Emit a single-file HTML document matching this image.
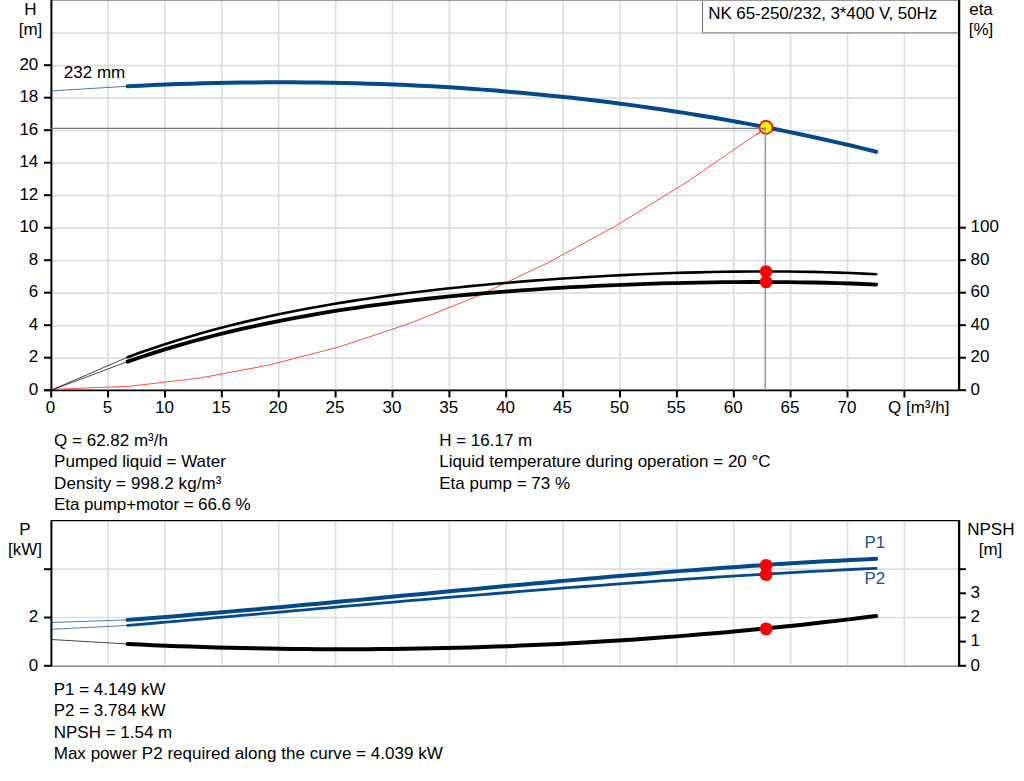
<!DOCTYPE html>
<html><head><meta charset="utf-8">
<style>
html,body{margin:0;padding:0;background:#fff;width:1024px;height:781px;overflow:hidden}
svg{display:block;position:absolute;left:0;top:0}
text{font-family:"Liberation Sans",sans-serif;font-size:17px;fill:#000}
</style></head><body>
<svg width="1024" height="781" viewBox="0 0 1024 781">
<g stroke="#dcdee0" stroke-width="1.7" fill="none">
<line x1="108.1" y1="0" x2="108.1" y2="390" />
<line x1="165.0" y1="0" x2="165.0" y2="390" />
<line x1="221.8" y1="0" x2="221.8" y2="390" />
<line x1="278.7" y1="0" x2="278.7" y2="390" />
<line x1="335.6" y1="0" x2="335.6" y2="390" />
<line x1="392.5" y1="0" x2="392.5" y2="390" />
<line x1="449.4" y1="0" x2="449.4" y2="390" />
<line x1="506.2" y1="0" x2="506.2" y2="390" />
<line x1="563.1" y1="0" x2="563.1" y2="390" />
<line x1="620.0" y1="0" x2="620.0" y2="390" />
<line x1="676.9" y1="0" x2="676.9" y2="390" />
<line x1="733.8" y1="0" x2="733.8" y2="390" />
<line x1="790.6" y1="0" x2="790.6" y2="390" />
<line x1="847.5" y1="0" x2="847.5" y2="390" />
<line x1="904.4" y1="0" x2="904.4" y2="390" />
<line x1="51" y1="358.05" x2="959" y2="358.05" />
<line x1="51" y1="325.55" x2="959" y2="325.55" />
<line x1="51" y1="293.05" x2="959" y2="293.05" />
<line x1="51" y1="260.55" x2="959" y2="260.55" />
<line x1="51" y1="228.05" x2="959" y2="228.05" />
<line x1="51" y1="195.55" x2="959" y2="195.55" />
<line x1="51" y1="163.05" x2="959" y2="163.05" />
<line x1="51" y1="130.55" x2="959" y2="130.55" />
<line x1="51" y1="98.05" x2="959" y2="98.05" />
<line x1="51" y1="65.55" x2="959" y2="65.55" />
<line x1="51" y1="33.05" x2="959" y2="33.05" />
<line x1="108.1" y1="521" x2="108.1" y2="665" />
<line x1="165.0" y1="521" x2="165.0" y2="665" />
<line x1="221.8" y1="521" x2="221.8" y2="665" />
<line x1="278.7" y1="521" x2="278.7" y2="665" />
<line x1="335.6" y1="521" x2="335.6" y2="665" />
<line x1="392.5" y1="521" x2="392.5" y2="665" />
<line x1="449.4" y1="521" x2="449.4" y2="665" />
<line x1="506.2" y1="521" x2="506.2" y2="665" />
<line x1="563.1" y1="521" x2="563.1" y2="665" />
<line x1="620.0" y1="521" x2="620.0" y2="665" />
<line x1="676.9" y1="521" x2="676.9" y2="665" />
<line x1="733.8" y1="521" x2="733.8" y2="665" />
<line x1="790.6" y1="521" x2="790.6" y2="665" />
<line x1="847.5" y1="521" x2="847.5" y2="665" />
<line x1="904.4" y1="521" x2="904.4" y2="665" />
<line x1="51" y1="617.50" x2="959" y2="617.50" />
<line x1="51" y1="569.20" x2="959" y2="569.20" />
</g>
<!-- top border -->

<line x1="51" y1="520.6" x2="959" y2="520.6" stroke="#000" stroke-width="1.3"/>
<!-- legend box -->
<rect x="702.5" y="0" width="256" height="32" fill="#fff"/>
<line x1="702.5" y1="0" x2="702.5" y2="33.5" stroke="#777" stroke-width="1.1"/>
<line x1="702" y1="32.85" x2="959" y2="32.85" stroke="#a8a8a8" stroke-width="1.9"/>
<line x1="51" y1="0.5" x2="959" y2="0.5" stroke="#9a9a9c" stroke-width="1"/>
<text x="708.3" y="19" textLength="228.9" lengthAdjust="spacing">NK 65-250/232, 3*400 V, 50Hz</text>
<!-- operating lines -->
<!-- axes -->
<line x1="51" y1="666.2" x2="959" y2="666.2" stroke="#858585" stroke-width="1.5"/>
<g stroke="#000" stroke-width="2" fill="none">
<line x1="51.4" y1="0" x2="51.4" y2="391"/>
<line x1="959.1" y1="0" x2="959.1" y2="391" stroke-width="2.3"/>
<line x1="44" y1="390.4" x2="959" y2="390.4" stroke-width="1.7"/>
<line x1="51.4" y1="520" x2="51.4" y2="666.5"/>
<line x1="959.1" y1="520" x2="959.1" y2="666.5" stroke-width="2.3"/>
<line x1="44" y1="390.2" x2="51" y2="390.2" />
<line x1="44" y1="357.7" x2="51" y2="357.7" />
<line x1="44" y1="325.2" x2="51" y2="325.2" />
<line x1="44" y1="292.7" x2="51" y2="292.7" />
<line x1="44" y1="260.2" x2="51" y2="260.2" />
<line x1="44" y1="227.7" x2="51" y2="227.7" />
<line x1="44" y1="195.2" x2="51" y2="195.2" />
<line x1="44" y1="162.7" x2="51" y2="162.7" />
<line x1="44" y1="130.2" x2="51" y2="130.2" />
<line x1="44" y1="97.7" x2="51" y2="97.7" />
<line x1="44" y1="65.2" x2="51" y2="65.2" />
<line x1="51.2" y1="390" x2="51.2" y2="397.5" />
<line x1="108.1" y1="390" x2="108.1" y2="397.5" />
<line x1="165.0" y1="390" x2="165.0" y2="397.5" />
<line x1="221.8" y1="390" x2="221.8" y2="397.5" />
<line x1="278.7" y1="390" x2="278.7" y2="397.5" />
<line x1="335.6" y1="390" x2="335.6" y2="397.5" />
<line x1="392.5" y1="390" x2="392.5" y2="397.5" />
<line x1="449.4" y1="390" x2="449.4" y2="397.5" />
<line x1="506.2" y1="390" x2="506.2" y2="397.5" />
<line x1="563.1" y1="390" x2="563.1" y2="397.5" />
<line x1="620.0" y1="390" x2="620.0" y2="397.5" />
<line x1="676.9" y1="390" x2="676.9" y2="397.5" />
<line x1="733.8" y1="390" x2="733.8" y2="397.5" />
<line x1="790.6" y1="390" x2="790.6" y2="397.5" />
<line x1="847.5" y1="390" x2="847.5" y2="397.5" />
<line x1="904.4" y1="390" x2="904.4" y2="397.5" />
<line x1="959" y1="390.2" x2="966" y2="390.2" />
<line x1="959" y1="357.7" x2="966" y2="357.7" />
<line x1="959" y1="325.2" x2="966" y2="325.2" />
<line x1="959" y1="292.7" x2="966" y2="292.7" />
<line x1="959" y1="260.2" x2="966" y2="260.2" />
<line x1="959" y1="227.7" x2="966" y2="227.7" />
<line x1="44" y1="665.8" x2="51" y2="665.8" />
<line x1="44" y1="617.5" x2="51" y2="617.5" />
<line x1="44" y1="569.2" x2="51" y2="569.2" />
<line x1="959" y1="665.8" x2="966" y2="665.8" />
<line x1="959" y1="641.6" x2="966" y2="641.6" />
<line x1="959" y1="617.5" x2="966" y2="617.5" />
<line x1="959" y1="593.3" x2="966" y2="593.3" />
<line x1="959" y1="569.2" x2="966" y2="569.2" />
</g>
<!-- system curve -->
<path d="M51.2,389.40 L129.1,386.28 L199.0,378.19 L268.8,365.10 L338.7,347.00 L408.5,323.89 L478.4,295.77 L548.2,262.65 L618.1,224.52 L687.9,181.38 L757.8,133.23 L765.9,127.30" fill="none" stroke="#ff4d4d" stroke-width="1"/>
<!-- curves top -->
<line x1="51.2" y1="390.2" x2="127.6" y2="357.20" stroke="#000" stroke-width="0.9" stroke-opacity="0.8"/>
<line x1="51.2" y1="390.2" x2="127.6" y2="361.63" stroke="#000" stroke-width="0.9" stroke-opacity="0.8"/>
<line x1="51.2" y1="90.9" x2="127.6" y2="86.27" stroke="#04498a" stroke-width="0.9" stroke-opacity="0.8"/>
<path d="M127.6,86.27 L140.3,85.66 L153.0,85.10 L165.7,84.58 L178.4,84.12 L191.0,83.72 L203.7,83.36 L216.4,83.05 L229.1,82.80 L241.8,82.60 L254.5,82.46 L267.2,82.37 L279.9,82.33 L292.5,82.35 L305.2,82.43 L317.9,82.56 L330.6,82.75 L343.3,83.00 L356.0,83.30 L368.7,83.66 L381.4,84.08 L394.1,84.56 L406.7,85.10 L419.4,85.71 L432.1,86.37 L444.8,87.09 L457.5,87.87 L470.2,88.72 L482.9,89.63 L495.6,90.60 L508.2,91.64 L520.9,92.74 L533.6,93.91 L546.3,95.14 L559.0,96.44 L571.7,97.80 L584.4,99.23 L597.1,100.73 L609.7,102.29 L622.4,103.93 L635.1,105.63 L647.8,107.40 L660.5,109.24 L673.2,111.15 L685.9,113.14 L698.6,115.19 L711.3,117.31 L723.9,119.51 L736.6,121.78 L749.3,124.13 L762.0,126.54 L774.7,129.04 L787.4,131.60 L800.1,134.24 L812.8,136.96 L825.4,139.75 L838.1,142.63 L850.8,145.57 L863.5,148.60 L876.2,151.70" fill="none" stroke="#04498a" stroke-width="4" stroke-linecap="round"/>
<path d="M127.6,357.20 L140.3,352.58 L153.0,348.17 L165.7,343.97 L178.4,339.97 L191.0,336.15 L203.7,332.52 L216.4,329.05 L229.1,325.76 L241.8,322.62 L254.5,319.63 L267.2,316.79 L279.9,314.08 L292.5,311.50 L305.2,309.05 L317.9,306.72 L330.6,304.50 L343.3,302.39 L356.0,300.38 L368.7,298.46 L381.4,296.65 L394.1,294.91 L406.7,293.27 L419.4,291.70 L432.1,290.21 L444.8,288.79 L457.5,287.44 L470.2,286.16 L482.9,284.94 L495.6,283.78 L508.2,282.68 L520.9,281.63 L533.6,280.64 L546.3,279.71 L559.0,278.82 L571.7,277.99 L584.4,277.20 L597.1,276.47 L609.7,275.78 L622.4,275.14 L635.1,274.55 L647.8,274.00 L660.5,273.51 L673.2,273.07 L685.9,272.67 L698.6,272.33 L711.3,272.04 L723.9,271.81 L736.6,271.63 L749.3,271.52 L762.0,271.46 L774.7,271.47 L787.4,271.55 L800.1,271.69 L812.8,271.91 L825.4,272.21 L838.1,272.59 L850.8,273.06 L863.5,273.61 L876.2,274.26" fill="none" stroke="#000" stroke-width="2.6" stroke-linecap="round"/>
<path d="M127.6,361.63 L140.3,357.28 L153.0,353.12 L165.7,349.16 L178.4,345.37 L191.0,341.76 L203.7,338.31 L216.4,335.03 L229.1,331.90 L241.8,328.92 L254.5,326.08 L267.2,323.37 L279.9,320.80 L292.5,318.35 L305.2,316.02 L317.9,313.80 L330.6,311.69 L343.3,309.69 L356.0,307.79 L368.7,305.98 L381.4,304.27 L394.1,302.64 L406.7,301.10 L419.4,299.63 L432.1,298.24 L444.8,296.93 L457.5,295.68 L470.2,294.50 L482.9,293.39 L495.6,292.34 L508.2,291.34 L520.9,290.41 L533.6,289.53 L546.3,288.70 L559.0,287.93 L571.7,287.20 L584.4,286.53 L597.1,285.90 L609.7,285.32 L622.4,284.79 L635.1,284.30 L647.8,283.86 L660.5,283.47 L673.2,283.12 L685.9,282.81 L698.6,282.56 L711.3,282.35 L723.9,282.19 L736.6,282.07 L749.3,282.01 L762.0,282.00 L774.7,282.04 L787.4,282.14 L800.1,282.29 L812.8,282.50 L825.4,282.77 L838.1,283.11 L850.8,283.51 L863.5,283.99 L876.2,284.53" fill="none" stroke="#000" stroke-width="3.8" stroke-linecap="round"/>
<!-- bottom curves -->
<line x1="51.2" y1="622.5" x2="127.6" y2="619.87" stroke="#04498a" stroke-width="0.9" stroke-opacity="0.8"/>
<line x1="51.2" y1="629.3" x2="127.6" y2="625.46" stroke="#04498a" stroke-width="0.9" stroke-opacity="0.8"/>
<line x1="51.2" y1="639.5" x2="127.6" y2="643.98" stroke="#000" stroke-width="0.9" stroke-opacity="0.8"/>
<path d="M127.6,619.87 L140.3,618.90 L153.0,617.92 L165.7,616.91 L178.4,615.89 L191.0,614.85 L203.7,613.79 L216.4,612.71 L229.1,611.62 L241.8,610.52 L254.5,609.41 L267.2,608.28 L279.9,607.14 L292.5,605.99 L305.2,604.83 L317.9,603.67 L330.6,602.50 L343.3,601.32 L356.0,600.13 L368.7,598.94 L381.4,597.75 L394.1,596.56 L406.7,595.36 L419.4,594.17 L432.1,592.97 L444.8,591.78 L457.5,590.59 L470.2,589.40 L482.9,588.21 L495.6,587.03 L508.2,585.86 L520.9,584.70 L533.6,583.54 L546.3,582.39 L559.0,581.25 L571.7,580.12 L584.4,579.01 L597.1,577.91 L609.7,576.82 L622.4,575.74 L635.1,574.69 L647.8,573.64 L660.5,572.62 L673.2,571.62 L685.9,570.63 L698.6,569.66 L711.3,568.72 L723.9,567.80 L736.6,566.90 L749.3,566.03 L762.0,565.18 L774.7,564.36 L787.4,563.56 L800.1,562.80 L812.8,562.06 L825.4,561.35 L838.1,560.68 L850.8,560.03 L863.5,559.42 L876.2,558.85" fill="none" stroke="#04498a" stroke-width="4" stroke-linecap="round"/>
<path d="M127.6,625.46 L140.3,624.35 L153.0,623.24 L165.7,622.13 L178.4,621.02 L191.0,619.90 L203.7,618.78 L216.4,617.66 L229.1,616.54 L241.8,615.41 L254.5,614.29 L267.2,613.17 L279.9,612.05 L292.5,610.93 L305.2,609.81 L317.9,608.69 L330.6,607.58 L343.3,606.47 L356.0,605.36 L368.7,604.25 L381.4,603.15 L394.1,602.06 L406.7,600.97 L419.4,599.88 L432.1,598.81 L444.8,597.73 L457.5,596.67 L470.2,595.61 L482.9,594.56 L495.6,593.52 L508.2,592.49 L520.9,591.46 L533.6,590.45 L546.3,589.45 L559.0,588.45 L571.7,587.47 L584.4,586.50 L597.1,585.54 L609.7,584.59 L622.4,583.66 L635.1,582.74 L647.8,581.83 L660.5,580.94 L673.2,580.06 L685.9,579.19 L698.6,578.34 L711.3,577.51 L723.9,576.69 L736.6,575.89 L749.3,575.11 L762.0,574.35 L774.7,573.60 L787.4,572.87 L800.1,572.16 L812.8,571.47 L825.4,570.80 L838.1,570.15 L850.8,569.52 L863.5,568.91 L876.2,568.32" fill="none" stroke="#04498a" stroke-width="2.8" stroke-linecap="round"/>
<path d="M127.6,643.98 L140.3,644.58 L153.0,645.14 L165.7,645.67 L178.4,646.17 L191.0,646.62 L203.7,647.04 L216.4,647.43 L229.1,647.77 L241.8,648.09 L254.5,648.36 L267.2,648.60 L279.9,648.80 L292.5,648.97 L305.2,649.10 L317.9,649.19 L330.6,649.24 L343.3,649.26 L356.0,649.24 L368.7,649.19 L381.4,649.10 L394.1,648.97 L406.7,648.80 L419.4,648.60 L432.1,648.36 L444.8,648.08 L457.5,647.76 L470.2,647.41 L482.9,647.02 L495.6,646.59 L508.2,646.13 L520.9,645.62 L533.6,645.08 L546.3,644.50 L559.0,643.89 L571.7,643.23 L584.4,642.54 L597.1,641.81 L609.7,641.04 L622.4,640.23 L635.1,639.39 L647.8,638.51 L660.5,637.59 L673.2,636.63 L685.9,635.63 L698.6,634.59 L711.3,633.52 L723.9,632.40 L736.6,631.25 L749.3,630.06 L762.0,628.83 L774.7,627.56 L787.4,626.25 L800.1,624.91 L812.8,623.52 L825.4,622.10 L838.1,620.63 L850.8,619.13 L863.5,617.59 L876.2,616.01" fill="none" stroke="#000" stroke-width="4" stroke-linecap="round"/>
<!-- op markers -->
<circle cx="766" cy="127.4" r="6.5" fill="#ffff00" stroke="#ff0000" stroke-width="1.7"/>
<line x1="51" y1="128.3" x2="766" y2="128.3" stroke="#777" stroke-width="1.2"/>
<line x1="765.3" y1="127.5" x2="765.3" y2="390" stroke="#999" stroke-width="1.5"/>
<path d="M756,135 L766,127.4" stroke="#ff3030" stroke-width="1" fill="none"/>
<circle cx="766.1" cy="271.5" r="6.3" fill="#ff0000"/>
<circle cx="766.1" cy="282.0" r="6.3" fill="#ff0000"/>
<circle cx="766.1" cy="565.4" r="6.4" fill="#ff0000"/>
<circle cx="766.1" cy="574.6" r="6.4" fill="#ff0000"/>
<circle cx="766.1" cy="628.9" r="6.4" fill="#ff0000"/>
<!-- labels -->
<text x="38.3" y="394.9" text-anchor="end">0</text>
<text x="38.3" y="362.4" text-anchor="end">2</text>
<text x="38.3" y="329.9" text-anchor="end">4</text>
<text x="38.3" y="297.4" text-anchor="end">6</text>
<text x="38.3" y="264.9" text-anchor="end">8</text>
<text x="38.3" y="232.4" text-anchor="end">10</text>
<text x="38.3" y="199.9" text-anchor="end">12</text>
<text x="38.3" y="167.4" text-anchor="end">14</text>
<text x="38.3" y="134.9" text-anchor="end">16</text>
<text x="38.3" y="102.4" text-anchor="end">18</text>
<text x="38.3" y="69.9" text-anchor="end">20</text>
<text x="50.6" y="412.8" text-anchor="middle">0</text>
<text x="107.5" y="412.8" text-anchor="middle">5</text>
<text x="164.4" y="412.8" text-anchor="middle">10</text>
<text x="221.2" y="412.8" text-anchor="middle">15</text>
<text x="278.1" y="412.8" text-anchor="middle">20</text>
<text x="335.0" y="412.8" text-anchor="middle">25</text>
<text x="391.9" y="412.8" text-anchor="middle">30</text>
<text x="448.8" y="412.8" text-anchor="middle">35</text>
<text x="505.6" y="412.8" text-anchor="middle">40</text>
<text x="562.5" y="412.8" text-anchor="middle">45</text>
<text x="619.4" y="412.8" text-anchor="middle">50</text>
<text x="676.3" y="412.8" text-anchor="middle">55</text>
<text x="733.2" y="412.8" text-anchor="middle">60</text>
<text x="790.0" y="412.8" text-anchor="middle">65</text>
<text x="846.9" y="412.8" text-anchor="middle">70</text>
<text x="970.5" y="394.9">0</text>
<text x="970.5" y="362.4">20</text>
<text x="970.5" y="329.9">40</text>
<text x="970.5" y="297.4">60</text>
<text x="970.5" y="264.9">80</text>
<text x="970.5" y="232.4">100</text>
<text x="38.3" y="670.5" text-anchor="end">0</text>
<text x="38.3" y="622.2" text-anchor="end">2</text>
<text x="970.5" y="670.5">0</text>
<text x="970.5" y="646.4">1</text>
<text x="970.5" y="622.2">2</text>
<text x="970.5" y="598.0">3</text>
<text x="30.5" y="15" text-anchor="middle">H</text>
<text x="30.5" y="35" text-anchor="middle">[m]</text>
<text x="981" y="15" text-anchor="middle">eta</text>
<text x="981" y="35" text-anchor="middle">[%]</text>
<text x="888" y="412.8">Q [m³/h]</text>
<text x="63.8" y="78">232 mm</text>
<text x="25" y="535" text-anchor="middle">P</text>
<text x="25" y="555" text-anchor="middle">[kW]</text>
<text x="990.8" y="535" text-anchor="middle">NPSH</text>
<text x="990.5" y="555" text-anchor="middle">[m]</text>
<text x="864.5" y="548" style="fill:#1d5294">P1</text>
<text x="864.5" y="584" style="fill:#1d5294">P2</text>
<g>
<text x="54.1" y="446">Q = 62.82 m³/h</text>
<text x="54.1" y="467.4">Pumped liquid = Water</text>
<text x="54.1" y="488.8" textLength="167.3" lengthAdjust="spacing">Density = 998.2 kg/m³</text>
<text x="54.1" y="510.2" textLength="196.5" lengthAdjust="spacing">Eta pump+motor = 66.6 %</text>
<text x="439.2" y="446">H = 16.17 m</text>
<text x="439.2" y="467.4">Liquid temperature during operation = 20 °C</text>
<text x="439.2" y="488.8">Eta pump = 73 %</text>
<text x="53.7" y="695">P1 = 4.149 kW</text>
<text x="53.7" y="716.4">P2 = 3.784 kW</text>
<text x="53.7" y="737.8">NPSH = 1.54 m</text>
<text x="53.7" y="759.2" textLength="389.1" lengthAdjust="spacing">Max power P2 required along the curve = 4.039 kW</text>
</g>
</svg>
</body></html>
